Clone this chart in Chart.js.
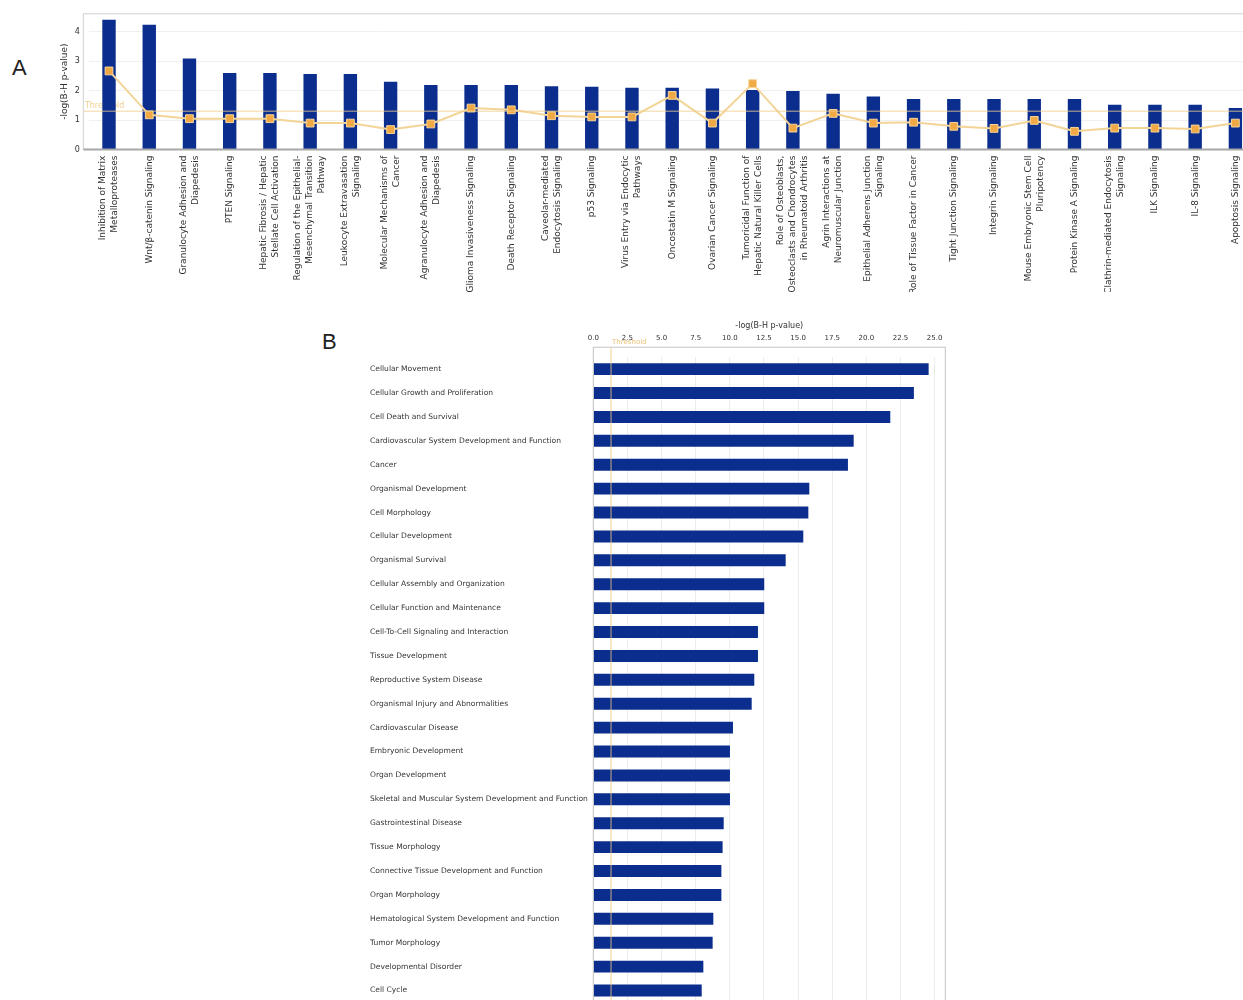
<!DOCTYPE html>
<html>
<head>
<meta charset="utf-8">
<script src="https://cdn.jsdelivr.net/npm/chart.js@4.4.1/dist/chart.umd.min.js"></script>
<style>
  html, body { margin: 0; padding: 0; width: 1243px; height: 1000px; overflow: hidden; background: #fff; }
  #chartA { position: absolute; left: 0; top: 0; }
  #chartB { position: absolute; left: 360px; top: 310px; }
  .panel { position: absolute; font-family: "Liberation Sans", sans-serif; font-size: 22px; line-height: 22px; color: #222; }
</style>
</head>
<body>
<div class="panel" style="left:12px; top:57px;">A</div>
<div class="panel" style="left:322px; top:331px;">B</div>
<canvas id="chartA" width="1262" height="300"></canvas>
<canvas id="chartB" width="600" height="700"></canvas>
<script>
// Panel A: canonical pathways
const aLabels = [
  ['Inhibition of Matrix', 'Metalloproteases'],
  ['Wnt/β-catenin Signaling'],
  ['Granulocyte Adhesion and', 'Diapedesis'],
  ['PTEN Signaling'],
  ['Hepatic Fibrosis / Hepatic', 'Stellate Cell Activation'],
  ['Regulation of the Epithelial-', 'Mesenchymal Transition', 'Pathway'],
  ['Leukocyte Extravasation', 'Signaling'],
  ['Molecular Mechanisms of', 'Cancer'],
  ['Agranulocyte Adhesion and', 'Diapedesis'],
  ['Glioma Invasiveness Signaling'],
  ['Death Receptor Signaling'],
  ['Caveolar-mediated', 'Endocytosis Signaling'],
  ['p53 Signaling'],
  ['Virus Entry via Endocytic', 'Pathways'],
  ['Oncostatin M Signaling'],
  ['Ovarian Cancer Signaling'],
  ['Tumoricidal Function of', 'Hepatic Natural Killer Cells'],
  ['Role of Osteoblasts,', 'Osteoclasts and Chondrocytes', 'in Rheumatoid Arthritis'],
  ['Agrin Interactions at', 'Neuromuscular Junction'],
  ['Epithelial Adherens Junction', 'Signaling'],
  ['Role of Tissue Factor in Cancer'],
  ['Tight Junction Signaling'],
  ['Integrin Signaling'],
  ['Mouse Embryonic Stem Cell', 'Pluripotency'],
  ['Protein Kinase A Signaling'],
  ['Clathrin-mediated Endocytosis', 'Signaling'],
  ['ILK Signaling'],
  ['IL-8 Signaling'],
  ['Apoptosis Signaling']
];
const aBars = [4.41, 4.24, 3.09, 2.60, 2.60, 2.57, 2.57, 2.30, 2.19, 2.19, 2.19, 2.15, 2.13, 2.10, 2.10,
  2.07, 2.02, 1.99, 1.90, 1.80, 1.72, 1.72, 1.72, 1.72, 1.72, 1.52, 1.52, 1.52, 1.41];
const aRatio = [2.67, 1.18, 1.05, 1.05, 1.05, 0.90, 0.90, 0.68, 0.87, 1.41, 1.35, 1.15, 1.11, 1.11, 1.84,
  0.90, 2.24, 0.73, 1.23, 0.90, 0.93, 0.79, 0.72, 0.99, 0.62, 0.73, 0.73, 0.70, 0.90];
const aTicks = [0, 1, 2, 3, 4];
const aThreshold = 1.3;

// Panel B: diseases and bio functions
const bLabels = [
  'Cellular Movement',
  'Cellular Growth and Proliferation',
  'Cell Death and Survival',
  'Cardiovascular System Development and Function',
  'Cancer',
  'Organismal Development',
  'Cell Morphology',
  'Cellular Development',
  'Organismal Survival',
  'Cellular Assembly and Organization',
  'Cellular Function and Maintenance',
  'Cell-To-Cell Signaling and Interaction',
  'Tissue Development',
  'Reproductive System Disease',
  'Organismal Injury and Abnormalities',
  'Cardiovascular Disease',
  'Embryonic Development',
  'Organ Development',
  'Skeletal and Muscular System Development and Function',
  'Gastrointestinal Disease',
  'Tissue Morphology',
  'Connective Tissue Development and Function',
  'Organ Morphology',
  'Hematological System Development and Function',
  'Tumor Morphology',
  'Developmental Disorder',
  'Cell Cycle'
];
const bValues = [24.56, 23.48, 21.75, 19.07, 18.65, 15.82, 15.75, 15.38, 14.09, 12.52, 12.52, 12.06, 12.06,
  11.79, 11.60, 10.23, 10.01, 10.01, 10.01, 9.55, 9.47, 9.38, 9.38, 8.79, 8.74, 8.06, 7.94];
const bTicks = [0, 2.5, 5, 7.5, 10, 12.5, 15, 17.5, 20, 22.5, 25];
const bThreshold = 1.3;

const BLUE = '#0b2e8e';
const FONT = 'DejaVu Sans';

// threshold, frame and rotated category labels for panel A
const panelA = {
  id: 'panelA',
  beforeDatasetsDraw(chart) {
    const { ctx, chartArea: a, scales: { y } } = chart;
    ctx.save();
    ctx.font = '8px "' + FONT + '"';
    ctx.fillStyle = '#efcf90';
    ctx.textBaseline = 'bottom';
    ctx.fillText('Threshold', a.left - 4, y.getPixelForValue(aThreshold) - 1);
    ctx.restore();
  },
  afterDatasetsDraw(chart) {
    const { ctx, chartArea: a, scales: { y } } = chart;
    const left = a.left - 5.6;
    const ty = y.getPixelForValue(aThreshold);
    ctx.save();
    ctx.strokeStyle = 'rgba(238, 205, 140, 0.55)';
    ctx.lineWidth = 1.5;
    ctx.beginPath();
    ctx.moveTo(left, ty);
    ctx.lineTo(a.right, ty);
    ctx.stroke();

    ctx.strokeStyle = '#cfcfcf';
    ctx.lineWidth = 1;
    ctx.beginPath();
    ctx.moveTo(left, a.bottom);
    ctx.lineTo(left, a.top);
    ctx.lineTo(a.right, a.top);
    ctx.stroke();

    ctx.strokeStyle = '#a8a8a8';
    ctx.lineWidth = 2;
    ctx.beginPath();
    ctx.moveTo(left, a.bottom);
    ctx.lineTo(a.right, a.bottom);
    ctx.stroke();
    ctx.restore();
  },
  afterDraw(chart) {
    const { ctx, chartArea: a, scales: { x } } = chart;
    ctx.save();
    ctx.beginPath();
    ctx.rect(0, a.bottom, chart.width, 292 - a.bottom);
    ctx.clip();
    ctx.font = '9px "' + FONT + '"';
    ctx.fillStyle = '#333';
    ctx.textAlign = 'right';
    ctx.textBaseline = 'middle';
    chart.data.labels.forEach((lines, i) => {
      ctx.save();
      ctx.translate(x.getPixelForValue(i), a.bottom + 6);
      ctx.rotate(-Math.PI / 2);
      lines.forEach((t, j) => ctx.fillText(t, 0, (j - (lines.length - 1) / 2) * 12));
      ctx.restore();
    });
    ctx.restore();
  }
};

// threshold and frame for panel B
const panelB = {
  id: 'panelB',
  afterDatasetsDraw(chart) {
    const { ctx, chartArea: a, scales: { x } } = chart;
    const tx = x.getPixelForValue(bThreshold);
    ctx.save();
    ctx.strokeStyle = 'rgba(238, 200, 130, 0.55)';
    ctx.lineWidth = 1.5;
    ctx.beginPath();
    ctx.moveTo(tx, a.top - 10);
    ctx.lineTo(tx, a.bottom);
    ctx.stroke();

    ctx.font = '7px "' + FONT + '"';
    ctx.fillStyle = '#e9c27a';
    ctx.textBaseline = 'middle';
    ctx.fillText('Threshold', tx + 1, a.top - 15);

    ctx.strokeStyle = '#c4c4c4';
    ctx.lineWidth = 1;
    ctx.strokeRect(a.left, a.top - 10, a.right - a.left, a.bottom - a.top + 10);
    ctx.restore();
  }
};

const chartA = new Chart(document.getElementById('chartA'), {
  type: 'bar',
  data: {
    labels: aLabels,
    datasets: [
      {
        type: 'line',
        data: aRatio,
        borderColor: '#f3d497',
        borderWidth: 2,
        pointStyle: 'rect',
        pointRadius: 5.5,
        pointBackgroundColor: '#f0a944',
        pointBorderColor: '#f7d59a',
        pointBorderWidth: 1,
        tension: 0,
        order: 0
      },
      {
        type: 'bar',
        data: aBars,
        backgroundColor: BLUE,
        barPercentage: 0.333,
        categoryPercentage: 1,
        order: 1
      }
    ]
  },
  options: {
    responsive: false,
    animation: false,
    layout: { padding: { left: 56, top: 11.7, right: 5.6, bottom: 0 } },
    plugins: { legend: { display: false }, tooltip: { enabled: false } },
    scales: {
      x: {
        grid: { display: false },
        border: { display: false },
        ticks: { display: false },
        afterFit(s) { s.height = 150.4; }
      },
      y: {
        min: 0,
        max: 4.61,
        afterBuildTicks(s) { s.ticks = aTicks.map(v => ({ value: v })); },
        afterFit(s) { s.width = 32.9; },
        grid: { color: '#f0f0f0', drawTicks: false },
        border: { display: false },
        ticks: { padding: 9, color: '#333', font: { family: FONT, size: 8 } },
        title: {
          display: true,
          text: '-log(B-H p-value)',
          color: '#333',
          font: { family: FONT, size: 9 },
          padding: { top: 3, bottom: 0 }
        }
      }
    }
  },
  plugins: [panelA]
});

const chartB = new Chart(document.getElementById('chartB'), {
  type: 'bar',
  data: {
    labels: bLabels,
    datasets: [{
      data: bValues,
      backgroundColor: BLUE,
      barPercentage: 0.5,
      categoryPercentage: 1
    }]
  },
  options: {
    indexAxis: 'y',
    responsive: false,
    animation: false,
    layout: { padding: { left: 10, top: 6, right: 14.7, bottom: 4.8 } },
    plugins: { legend: { display: false }, tooltip: { enabled: false } },
    scales: {
      x: {
        position: 'top',
        min: 0,
        max: 25.78,
        afterBuildTicks(s) { s.ticks = bTicks.map(v => ({ value: v })); },
        afterFit(s) { s.height = 41.2; },
        grid: { color: '#ececec', drawTicks: false },
        border: { display: false },
        ticks: {
          padding: 14.7,
          color: '#333',
          font: { family: FONT, size: 7 },
          callback: v => v.toFixed(1)
        },
        title: {
          display: true,
          text: '-log(B-H p-value)',
          color: '#333',
          font: { family: FONT, size: 8 },
          padding: { top: 5, bottom: 0 }
        }
      },
      y: {
        afterFit(s) { s.width = 223.3; },
        grid: { display: false },
        border: { display: false },
        ticks: { autoSkip: false, crossAlign: 'far', color: '#333', font: { family: FONT, size: 7.55 } }
      }
    }
  },
  plugins: [panelB]
});
</script>
</body>
</html>
